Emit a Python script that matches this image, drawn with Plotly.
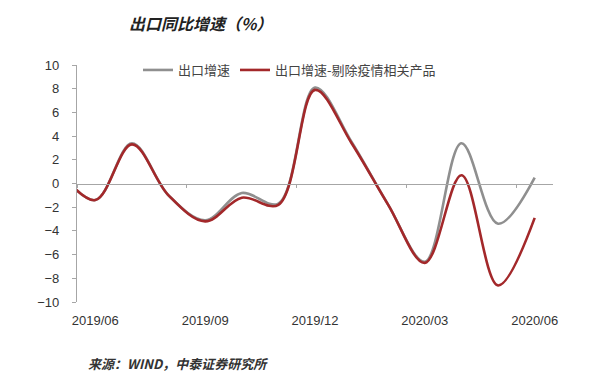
import plotly.graph_objects as go

months = ['2019/05', '2019/06', '2019/07', '2019/08', '2019/09', '2019/10', '2019/11',
          '2019/12', '2020/01', '2020/02', '2020/03', '2020/04', '2020/05', '2020/06']
export_growth = [1.1, -1.4, 3.4, -1.0, -3.1, -0.8, -1.7, 8.1, 3.5, -1.8, -6.6, 3.4, -3.4, 0.5]
export_ex_epidemic = [1.1, -1.4, 3.3, -1.0, -3.2, -1.2, -1.8, 7.9, 3.4, -1.8, -6.7, 0.7, -8.6, -2.9]
tick_labels = ['2019/06', '2019/09', '2019/12', '2020/03', '2020/06']
y_ticks = [-10, -8, -6, -4, -2, 0, 2, 4, 6, 8, 10]

GRAY = '#8f8f8f'
RED = '#a3282a'
AXIS = '#a6a6a6'
TXT = '#333333'

# page body has an 8px default margin; plot area target on screen: x 77..553, y 65..302
OFF = 8
L, R, T, B = 77 - OFF, 600 - (553 - OFF), 65 - OFF, 388 - (302 - OFF)
PW, PH = 476, 237

fig = go.Figure()
fig.add_trace(go.Scatter(x=months, y=export_growth, mode='lines', name='出口增速',
                         line=dict(color=GRAY, width=2.6, shape='spline', smoothing=1.0)))
fig.add_trace(go.Scatter(x=months, y=export_ex_epidemic, mode='lines', name='出口增速-剔除疫情相关产品',
                         line=dict(color=RED, width=2.6, shape='spline', smoothing=1.0)))

fig.update_layout(
    width=600, height=388,
    margin=dict(l=L, r=R, t=T, b=B, autoexpand=False),
    paper_bgcolor='white', plot_bgcolor='white',
    font=dict(family='Liberation Sans, Noto Sans CJK SC', color=TXT, size=12),
    showlegend=True,
    legend=dict(orientation='h', x=(138 - 77) / PW, xanchor='left', y=1 - 5 / PH, yanchor='middle',
                font=dict(family='Noto Sans CJK SC', size=13, color='#444444'),
                itemwidth=30, tracegroupgap=0, bgcolor='rgba(0,0,0,0)'),
    xaxis=dict(type='category', range=[0.5, 13.5], tickvals=tick_labels, ticktext=tick_labels,
               showline=False, showgrid=False, zeroline=False, ticks='', automargin=False,
               ticklabelstandoff=9,
               tickfont=dict(family='Liberation Sans', size=13, color=TXT)),
    xaxis2=dict(type='linear', overlaying='x', anchor='free', position=0.5, side='bottom',
                range=[0.5, 13.5], tickvals=[0.5, 3.5, 6.5, 9.5, 12.5], showticklabels=False,
                showline=True, linecolor=AXIS, linewidth=1.2, ticks='outside', ticklen=3,
                tickcolor=AXIS, showgrid=False, zeroline=False, automargin=False),
    yaxis=dict(range=[-10, 10], tickvals=y_ticks, showgrid=False, zeroline=False,
               showline=True, linecolor=AXIS, linewidth=1.2, ticks='outside', ticklen=4,
               tickcolor=AXIS, ticklabelstandoff=10, automargin=False,
               tickfont=dict(family='Liberation Sans', size=13, color=TXT)),
    annotations=[
        dict(text='<b><i>出口同比增速（%）</i></b>', xref='paper', yref='paper',
             x=(200 - 77) / PW, y=1 + (65 - 23) / PH, xanchor='center', yanchor='middle',
             showarrow=False, font=dict(family='Noto Sans CJK SC', size=16, color='#222222')),
        dict(text='<b><i>来源：WIND，中泰证券研究所</i></b>', xref='paper', yref='paper',
             x=(86 - 77) / PW, y=-(363 - 302) / PH, xanchor='left', yanchor='middle',
             showarrow=False, font=dict(family='Noto Sans CJK SC', size=13, color='#333333')),
    ],
)
# invisible helper trace so the zero-line axis (xaxis2) is drawn
fig.add_trace(go.Scatter(x=[1], y=[0], xaxis='x2', mode='markers', marker=dict(opacity=0),
                         showlegend=False, hoverinfo='skip'))

fig.write_html('out.html')
